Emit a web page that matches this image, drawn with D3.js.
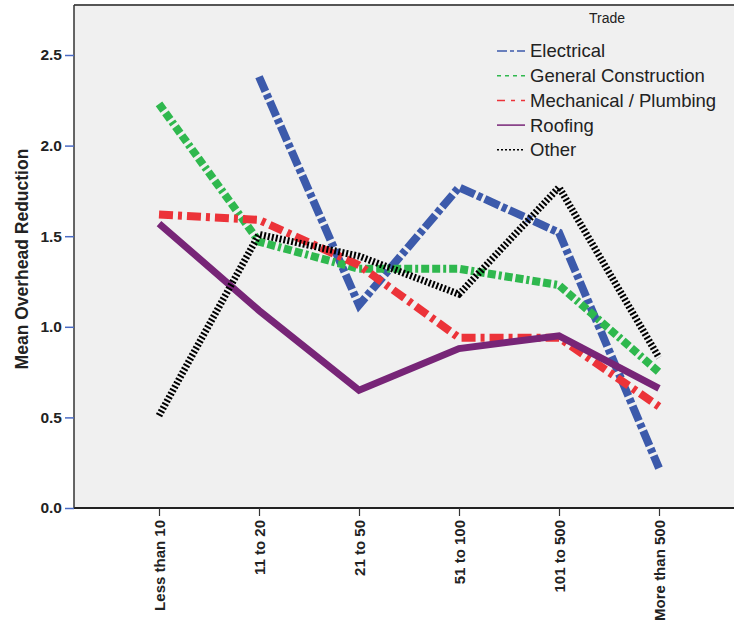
<!DOCTYPE html>
<html><head><meta charset="utf-8">
<script src="https://cdn.jsdelivr.net/npm/d3@7"></script>
<style>body{margin:0;background:#fff;} svg{display:block;font-family:"Liberation Sans",Arial,sans-serif;}</style>
</head><body>
<svg id="chart" width="734" height="629"></svg>
<script>
const categories = ["Less than 10","11 to 20","21 to 50","51 to 100","101 to 500","More than 500"];
const seriesNames = ["Electrical","General Construction","Mechanical / Plumbing","Roofing","Other"];
const electrical = [null, 2.38, 1.12, 1.77, 1.52, 0.22];
const generalConstruction = [2.23, 1.47, 1.32, 1.32, 1.23, 0.75];
const mechanicalPlumbing = [1.62, 1.59, 1.34, 0.94, 0.94, 0.56];
const roofing = [1.57, 1.09, 0.65, 0.88, 0.95, 0.66];
const other = [0.51, 1.51, 1.39, 1.18, 1.77, 0.83];
const yTicks = [0, 0.5, 1.0, 1.5, 2.0, 2.5];

(function(){
const seriesValues = [electrical, generalConstruction, mechanicalPlumbing, roofing, other];
const styles = [
  {color:"#3c5aab", dash:"16,3,5,3", width:8, legendDash:"10,3,4,3"},
  {color:"#2fb84e", dash:"8,3,8,3,3,3", width:8, legendDash:"4,4"},
  {color:"#ec3339", dash:"14,5,4,5", width:8, legendDash:"8,6,4,6"},
  {color:"#772577", dash:null, width:7, legendDash:null},
  {color:"#000000", dash:"2,2", width:7, legendDash:"2,2"}
];

const svg = d3.select("#chart");
const pLeft = 74, pTop = 5, pBottom = 508, pRight = 744;

const x = d3.scalePoint().domain(categories).range([pLeft, pRight]).padding(0.85);
const y = d3.scaleLinear().domain([0, 2.5]).range([pBottom, 55]);

svg.append("rect").attr("x", pLeft).attr("y", pTop).attr("width", pRight - pLeft).attr("height", pBottom - pTop)
  .attr("fill", "#f0f0f0");
svg.append("line").attr("x1", pLeft).attr("x2", 734).attr("y1", pTop).attr("y2", pTop).attr("stroke", "#555").attr("stroke-width", 2);
svg.append("line").attr("x1", pLeft).attr("x2", 734).attr("y1", pBottom).attr("y2", pBottom).attr("stroke", "#222").attr("stroke-width", 2);
svg.append("line").attr("x1", pLeft).attr("x2", pLeft).attr("y1", pTop).attr("y2", pBottom).attr("stroke", "#333").attr("stroke-width", 1.5);

const yAxis = d3.axisLeft(y).tickValues(yTicks).tickFormat(d3.format(".1f")).tickSize(9).tickPadding(3);
const gy = svg.append("g").attr("transform", `translate(${pLeft},0)`).call(yAxis);
gy.select(".domain").remove();
gy.selectAll(".tick line").attr("stroke", "#4a6bc4").attr("stroke-width", 1.5);
gy.selectAll(".tick text").attr("font-size", 15.5).attr("font-weight", "bold").attr("fill", "#222")
  .attr("font-family", "Liberation Sans, Arial, sans-serif");

const xAxis = d3.axisBottom(x).tickSize(8).tickPadding(4);
const gx = svg.append("g").attr("transform", `translate(0,${pBottom})`).call(xAxis);
gx.select(".domain").remove();
gx.selectAll(".tick line").attr("stroke", "#333").attr("stroke-width", 1.2);
gx.selectAll(".tick text").attr("font-size", 15).attr("font-weight", "bold").attr("fill", "#222")
  .attr("font-family", "Liberation Sans, Arial, sans-serif")
  .attr("transform", "rotate(-90)").attr("text-anchor", "end").attr("dy", "0.35em")
  .attr("x", -12).attr("y", 0);

svg.append("text").attr("transform", `translate(28,259) rotate(-90)`)
  .attr("text-anchor", "middle").attr("font-size", 17.5).attr("font-weight", "bold").attr("fill", "#222")
  .text("Mean Overhead Reduction");

const line = d3.line().defined(d => d.v !== null).x(d => x(d.c)).y(d => y(d.v));
seriesValues.forEach((vals, i) => {
  const data = vals.map((v, j) => ({c: categories[j], v}));
  const p = svg.append("path").datum(data).attr("d", line).attr("fill", "none")
    .attr("stroke", styles[i].color).attr("stroke-width", styles[i].width).attr("stroke-linejoin", "miter");
  if (styles[i].dash) p.attr("stroke-dasharray", styles[i].dash);
});

const lg = svg.append("g");
lg.append("text").attr("x", 607).attr("y", 23).attr("text-anchor", "middle").attr("font-size", 14).attr("fill", "#222").text("Trade");
seriesNames.forEach((n, i) => {
  const yy = 51 + i * 24.7;
  const l = lg.append("line").attr("x1", 497).attr("x2", 525).attr("y1", yy).attr("y2", yy)
    .attr("stroke", styles[i].color).attr("stroke-width", 1.5);
  if (styles[i].legendDash) l.attr("stroke-dasharray", styles[i].legendDash);
  lg.append("text").attr("x", 530).attr("y", yy).attr("dy", "0.35em").attr("font-size", 18.5).attr("fill", "#222").text(n);
});
})();
</script>
</body></html>
